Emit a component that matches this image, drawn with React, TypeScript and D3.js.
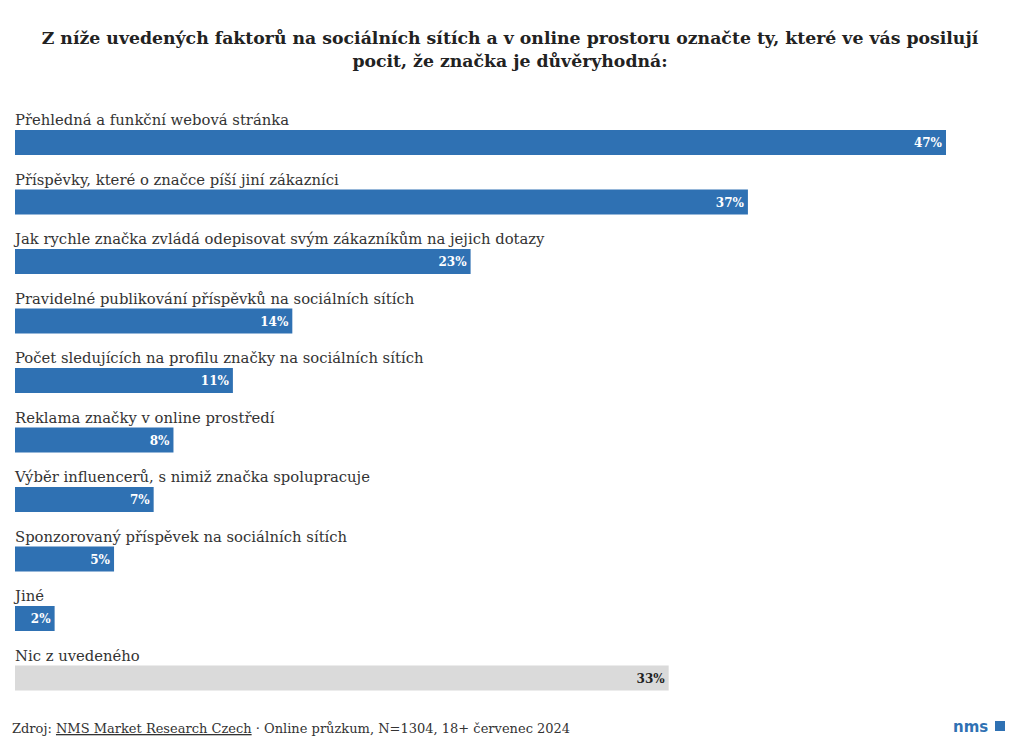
import React from "react";
import * as d3 from "d3";

const categories = [
  "Přehledná a funkční webová stránka",
  "Příspěvky, které o značce píší jiní zákazníci",
  "Jak rychle značka zvládá odepisovat svým zákazníkům na jejich dotazy",
  "Pravidelné publikování příspěvků na sociálních sítích",
  "Počet sledujících na profilu značky na sociálních sítích",
  "Reklama značky v online prostředí",
  "Výběr influencerů, s nimiž značka spolupracuje",
  "Sponzorovaný příspěvek na sociálních sítích",
  "Jiné",
  "Nic z uvedeného",
];
const values = [47, 37, 23, 14, 11, 8, 7, 5, 2, 33];
const valueLabels = ["47%", "37%", "23%", "14%", "11%", "8%", "7%", "5%", "2%", "33%"];
const greyCategories = ["Nic z uvedeného"];

const titleLines = [
  "Z níže uvedených faktorů na sociálních sítích a v online prostoru označte ty, které ve vás posilují",
  "pocit, že značka je důvěryhodná:",
];

const W = 1020;
const H = 751;
const FONT = "'DejaVu Serif', serif";

export default function App() {
  const x = d3.scaleLinear().domain([0, 47]).range([15, 946]);
  const y = d3
    .scaleBand<string>()
    .domain(categories)
    .range([110, 705])
    .paddingInner(0)
    .paddingOuter(0);
  const barH = 25;
  return (
    <div style={{ position: "absolute", left: 0, top: 0 }}>
      <svg width={W} height={H} style={{ display: "block", background: "#fff" }}>
        {titleLines.map((t, i) => (
          <text
            key={i}
            x={510}
            y={44 + i * 23}
            textAnchor="middle"
            fontFamily={FONT}
            fontWeight="bold"
            fontSize={17.3}
            fill="#222"
          >
            {t}
          </text>
        ))}
        {categories.map((c, i) => {
          const top = (y(c) as number) + 20;
          const grey = greyCategories.includes(c);
          return (
            <g key={c}>
              <text x={15} y={top - 5} fontFamily={FONT} fontSize={14.8} fill="#333">
                {c}
              </text>
              <rect
                x={x(0)}
                y={top}
                width={x(values[i]) - x(0)}
                height={barH}
                fill={grey ? "#dadada" : "#2f71b3"}
              />
              <text
                x={x(values[i]) - 4}
                y={top + 17}
                textAnchor="end"
                fontFamily={FONT}
                fontWeight="bold"
                fontSize={12}
                fill={grey ? "#222" : "#fff"}
              >
                {valueLabels[i]}
              </text>
            </g>
          );
        })}
        <text x={12} y={733} fontFamily={FONT} fontSize={13} fill="#333">
          <tspan>Zdroj: </tspan>
          <tspan textDecoration="underline">NMS Market Research Czech</tspan>
          <tspan> · Online průzkum, N=1304, 18+ červenec 2024</tspan>
        </text>
        <text x={953} y={732} fontFamily="'DejaVu Sans', sans-serif" fontWeight="bold" fontSize={15} fill="#2f71b3">
          nms
        </text>
        <rect x={995} y={721} width={10} height={10} fill="#2f71b3" />
      </svg>
    </div>
  );
}
